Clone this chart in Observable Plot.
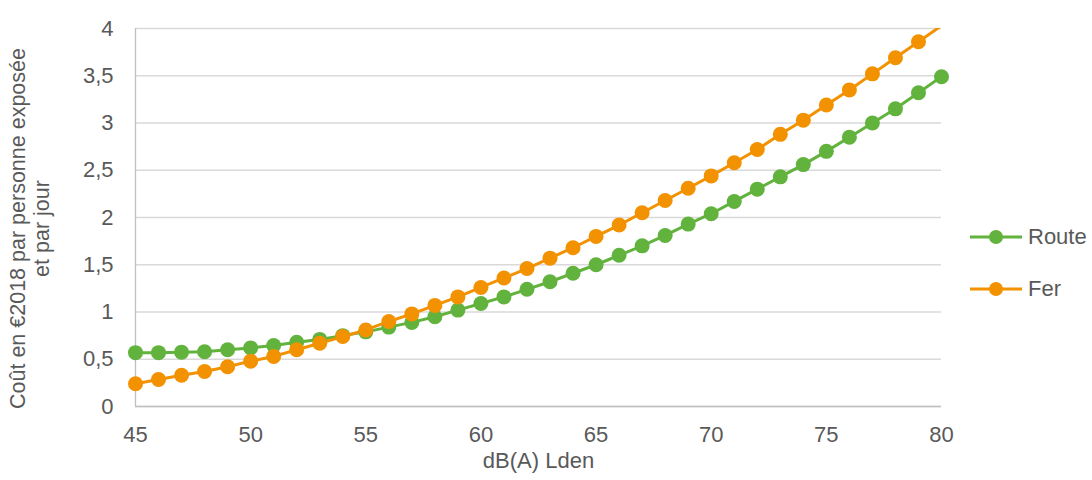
<!DOCTYPE html>
<html>
<head>
<meta charset="utf-8">
<script src="https://cdn.jsdelivr.net/npm/d3@7"></script>
<script src="https://cdn.jsdelivr.net/npm/@observablehq/plot@0.6"></script>
<style>
  html, body { margin: 0; padding: 0; background: #fff; }
  #wrap { position: relative; width: 1092px; height: 480px; font-family: "Liberation Sans", Arial, sans-serif; }
  #legend { position: absolute; left: 968px; top: 224px; font-size: 22px; color: #595959; }
  .item { display: flex; align-items: center; height: 26px; margin-bottom: 26px; }
  .item svg { margin-right: 4px; }
</style>
</head>
<body>
<div id="wrap"></div>
<script>
const db = [45,46,47,48,49,50,51,52,53,54,55,56,57,58,59,60,61,62,63,64,65,66,67,68,69,70,71,72,73,74,75,76,77,78,79,80];
const route = [0.57,0.57,0.575,0.58,0.60,0.62,0.645,0.68,0.71,0.75,0.79,0.84,0.89,0.95,1.02,1.09,1.16,1.24,1.32,1.41,1.50,1.60,1.70,1.81,1.93,2.04,2.17,2.30,2.43,2.56,2.70,2.85,3.00,3.15,3.32,3.49];
const fer = [0.24,0.285,0.33,0.37,0.42,0.48,0.53,0.60,0.67,0.74,0.81,0.90,0.98,1.07,1.16,1.26,1.36,1.46,1.57,1.68,1.80,1.92,2.05,2.18,2.31,2.44,2.58,2.72,2.88,3.03,3.19,3.35,3.52,3.69,3.86,4.03];
const seriesNames = ["Route", "Fer"];
const seriesColors = ["#62b33d", "#f39200"];
const xTicks = [45,50,55,60,65,70,75,80];
const yTicks = [0,0.5,1,1.5,2,2.5,3,3.5,4];
const xLabel = "dB(A) Lden";
const yLabel = "Coût en €2018 par personne exposée\net par jour";

const data = [];
db.forEach((d, i) => {
  data.push({x: d, y: route[i], s: seriesNames[0]});
  data.push({x: d, y: fer[i], s: seriesNames[1]});
});

const FS = 22;
const chart = Plot.plot({
  width: 1092,
  height: 480,
  marginLeft: 135,
  marginRight: 151,
  marginTop: 28,
  marginBottom: 74,
  style: {fontFamily: "'Liberation Sans', Arial, sans-serif", fontSize: FS + "px", color: "#595959", background: "#fff"},
  x: {domain: [45, 80]},
  y: {domain: [0, 4]},
  color: {domain: seriesNames, range: seriesColors},
  marks: [
    Plot.gridY(yTicks, {stroke: "#d9d9d9", strokeOpacity: 1, strokeWidth: 1.3}),
    Plot.ruleY([0], {stroke: "#bfbfbf", strokeWidth: 1.3}),
    Plot.ruleX([45], {stroke: "#bfbfbf", strokeWidth: 1.3}),
    Plot.axisY(yTicks, {tickSize: 0, tickPadding: 22, tickFormat: d => String(d).replace(".", ","), label: null, fontSize: FS, fill: "#595959"}),
    Plot.axisX(xTicks, {tickSize: 0, tickPadding: 20, label: null, fontSize: FS, fill: "#595959"}),
    Plot.line(data, {x: "x", y: "y", z: "s", stroke: "s", strokeWidth: 3, clip: true}),
    Plot.dot(data, {filter: d => d.y <= 4, x: "x", y: "y", fill: "s", r: 7.5, stroke: null}),
    Plot.text([xLabel], {frameAnchor: "bottom", dy: 61, fontSize: FS, fill: "#595959"}),
    Plot.text([yLabel], {frameAnchor: "left", dx: -106, dy: 11, rotate: -90, fontSize: 21.5, fill: "#595959", lineHeight: 1.12, textAnchor: "middle"})
  ]
});

const wrap = document.getElementById("wrap");
wrap.appendChild(chart);

const legend = document.createElement("div");
legend.id = "legend";
seriesNames.forEach((name, i) => {
  const item = document.createElement("div");
  item.className = "item";
  const ns = "http://www.w3.org/2000/svg";
  const sw = document.createElementNS(ns, "svg");
  sw.setAttribute("width", "56");
  sw.setAttribute("height", "20");
  const ln = document.createElementNS(ns, "line");
  ln.setAttribute("x1", "2"); ln.setAttribute("x2", "54");
  ln.setAttribute("y1", "10"); ln.setAttribute("y2", "10");
  ln.setAttribute("stroke", seriesColors[i]); ln.setAttribute("stroke-width", "3");
  const c = document.createElementNS(ns, "circle");
  c.setAttribute("cx", "28"); c.setAttribute("cy", "10"); c.setAttribute("r", "7");
  c.setAttribute("fill", seriesColors[i]);
  sw.appendChild(ln); sw.appendChild(c);
  const t = document.createElement("span");
  t.textContent = name;
  item.appendChild(sw); item.appendChild(t);
  legend.appendChild(item);
});
wrap.appendChild(legend);
</script>
</body>
</html>
